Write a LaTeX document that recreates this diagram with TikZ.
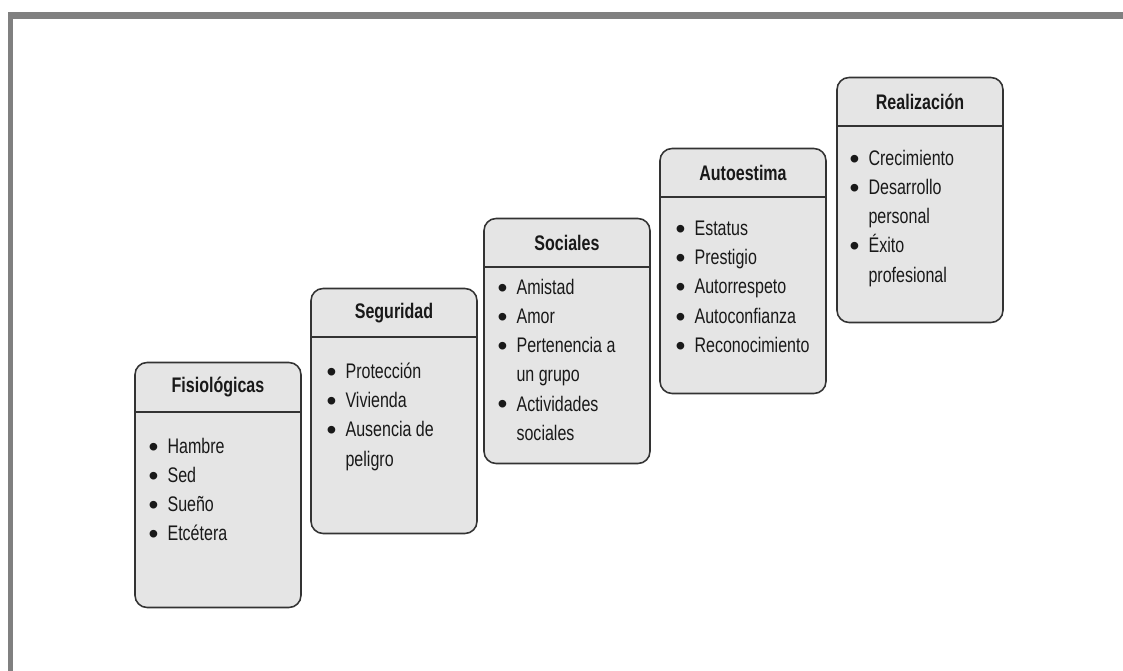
\documentclass[tikz,border=0pt]{standalone}
\usepackage{fontspec}
\setmainfont{Liberation Sans}[FakeStretch=0.76]
\newfontfamily\bulfont{Liberation Sans}
\usetikzlibrary{calc}
\def\itm{\makebox[0.38cm][l]{\bulfont\fontsize{16}{16}\selectfont\raisebox{-0.2ex}{\textbullet}}}
\def\cnt{\hspace*{0.38cm}}
\tikzset{
	box/.style={draw=black!80, line width=0.9pt, fill=black!10, rounded corners=0.24cm, minimum width=3.32cm, minimum height=4.9cm, inner sep=0},
	head/.style={font=\bfseries\fontsize{12}{14}\selectfont, text=black!90, inner sep=0},
	items/.style={font=\fontsize{12}{16.6}\selectfont, text=black!90, align=left, anchor=north west, inner sep=0},
	sepline/.style={draw=black!80, line width=0.9pt}
}

\begin{document}
\begin{tikzpicture}[x=0.02cm, y=-0.02cm]
		%%%%% START %%%%%
		
		\useasboundingbox (0, 0) rectangle (1123, 671);
		\fill[color=black!50] (8, 12) rectangle (1123, 19);
		\fill[color=black!50] (8, 12) rectangle (13, 671);
		
		\node[box] (fis) at (218, 485) {};
		\draw[sepline] ($(fis.north west)+(0, 50)$) -- ($(fis.north east)+(0, 50)$);
		\node[head] (fishead) at ($(fis.north)+(0, 25)$) {Fisiológicas};
		\node[items] (fislist) at ($(fis.north west)+(14, 76)$) {\itm Hambre\\ \itm Sed\\ \itm Sueño\\ \itm Etcétera};
		
		\node[box] (seg) at (394, 411) {};
		\draw[sepline] ($(seg.north west)+(0, 49)$) -- ($(seg.north east)+(0, 49)$);
		\node[head] (seghead) at ($(seg.north)+(0, 25)$) {Seguridad};
		\node[items] (seglist) at ($(seg.north west)+(16, 75)$) {\itm Protección\\ \itm Vivienda\\ \itm Ausencia de\\ \cnt peligro};
		
		\node[box] (soc) at (567, 341) {};
		\draw[sepline] ($(soc.north west)+(0, 49)$) -- ($(soc.north east)+(0, 49)$);
		\node[head] (sochead) at ($(soc.north)+(0, 25)$) {Sociales};
		\node[items] (soclist) at ($(soc.north west)+(14, 61)$) {\itm Amistad\\ \itm Amor\\ \itm Pertenencia a\\ \cnt un grupo\\ \itm Actividades\\ \cnt sociales};
		
		\node[box] (aut) at (743, 271) {};
		\draw[sepline] ($(aut.north west)+(0, 49)$) -- ($(aut.north east)+(0, 49)$);
		\node[head] (authead) at ($(aut.north)+(0, 25)$) {Autoestima};
		\node[items] (autlist) at ($(aut.north west)+(16, 73)$) {\itm Estatus\\ \itm Prestigio\\ \itm Autorrespeto\\ \itm Autoconfianza\\ \itm Reconocimiento};
		
		\node[box] (rea) at (920, 200) {};
		\draw[sepline] ($(rea.north west)+(0, 49)$) -- ($(rea.north east)+(0, 49)$);
		\node[head] (reahead) at ($(rea.north)+(0, 25)$) {Realización};
		\node[items] (realist) at ($(rea.north west)+(13, 73)$) {\itm Crecimiento\\ \itm Desarrollo\\ \cnt personal\\ \itm Éxito\\ \cnt profesional};
		
		%%%%% END %%%%%
	\end{tikzpicture}
\end{document}
